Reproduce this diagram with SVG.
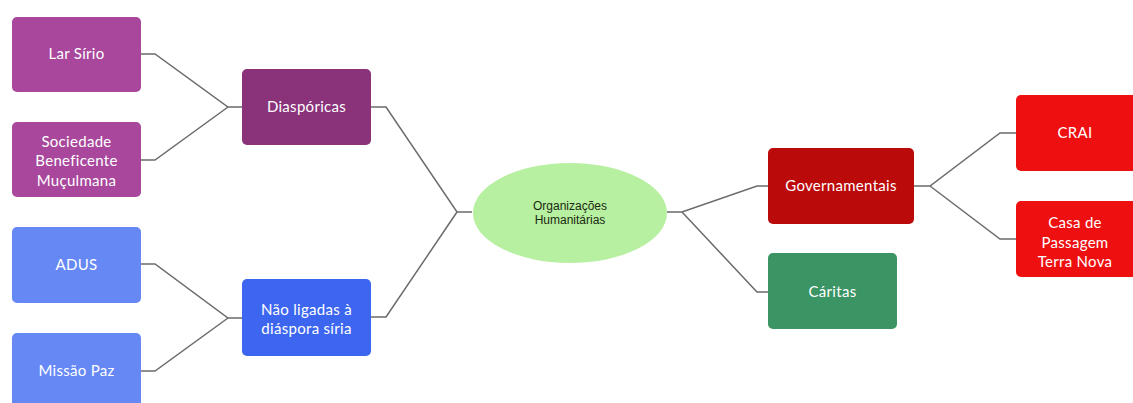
<svg xmlns="http://www.w3.org/2000/svg" width="1133" height="403" viewBox="0 0 1133 403">
<style>
.box{stroke:none}
.t{font-family:Lato,"Liberation Sans",sans-serif;font-size:15px;letter-spacing:0.3px;fill:#ffffff;text-anchor:middle}
.c{fill:none;stroke:#6b6b6b;stroke-width:1.5}
.ct{font-family:"Liberation Sans",Arial,sans-serif;font-size:12px;fill:#1a2a10;text-anchor:middle}
</style>
<rect width="1133" height="403" fill="#ffffff"/>
<g id="connectors">
<path class="c" d="M141,54 H155 L228,107 H242"/>
<path class="c" d="M141,160 H155 L228,107"/>
<path class="c" d="M141,264 H155 L228,318 H242"/>
<path class="c" d="M141,371 H155 L228,318"/>
<path class="c" d="M371,107 H386 L457,212 H472"/>
<path class="c" d="M371,317 H386 L457,212"/>
<path class="c" d="M667,212 H682 L757,186 H768"/>
<path class="c" d="M682,212 L757,292 H768"/>
<path class="c" d="M914,186 H930 L1000,133 H1016"/>
<path class="c" d="M930,186 L1000,239 H1016"/>
</g>
<g id="lar-sirio"><rect class="box" x="12" y="17" width="129" height="75" rx="5" fill="#a8479c"/><text class="t" x="76.5" y="59">Lar Sírio</text></g>
<g id="sociedade"><rect class="box" x="12" y="122" width="129" height="75" rx="5" fill="#a8479c"/><text class="t" x="76.5" y="147">Sociedade</text><text class="t" x="76.5" y="166">Beneficente</text><text class="t" x="76.5" y="186">Muçulmana</text></g>
<g id="diasporicas"><rect class="box" x="242" y="69" width="129" height="76" rx="5" fill="#8a327a"/><text class="t" x="306.5" y="112">Diaspóricas</text></g>
<g id="adus"><rect class="box" x="12" y="227" width="129" height="76" rx="5" fill="#6688f5"/><text class="t" x="76.5" y="270">ADUS</text></g>
<g id="missao-paz"><rect class="box" x="12" y="333" width="129" height="80" rx="5" fill="#6688f5"/><text class="t" x="76.5" y="376">Missão Paz</text></g>
<g id="nao-ligadas"><rect class="box" x="242" y="279" width="129" height="77" rx="5" fill="#3d66f0"/><text class="t" x="306.5" y="315">Não ligadas à</text><text class="t" x="306.5" y="334">diáspora síria</text></g>
<g id="central"><ellipse cx="570" cy="213" rx="97" ry="50" fill="#b8f0a2"/><text class="ct" x="570" y="210">Organizações</text><text class="ct" x="570" y="224">Humanitárias</text></g>
<g id="governamentais"><rect class="box" x="768" y="148" width="146" height="76" rx="5" fill="#bb0a0a"/><text class="t" x="841" y="191">Governamentais</text></g>
<g id="caritas"><rect class="box" x="768" y="253" width="129" height="76" rx="5" fill="#3a9464"/><text class="t" x="832.5" y="297">Cáritas</text></g>
<g id="crai"><rect class="box" x="1016" y="95" width="125" height="76" rx="5" fill="#ee1010"/><text class="t" x="1075" y="138">CRAI</text></g>
<g id="casa"><rect class="box" x="1016" y="201" width="125" height="76" rx="5" fill="#ee1010"/><text class="t" x="1075" y="228">Casa de</text><text class="t" x="1075" y="248">Passagem</text><text class="t" x="1075" y="267">Terra Nova</text></g>
</svg>
